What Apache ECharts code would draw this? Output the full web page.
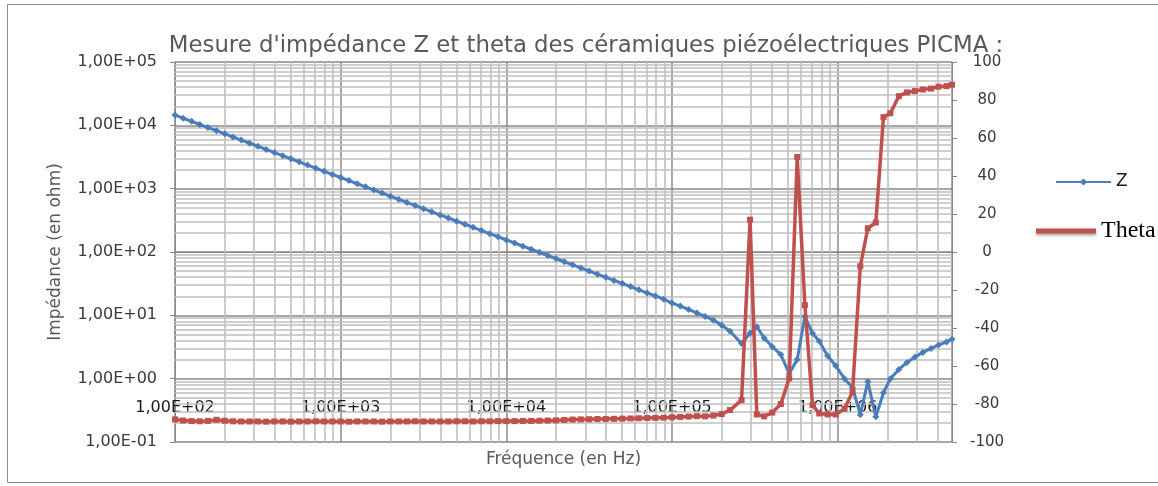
<!DOCTYPE html>
<html>
<head>
<meta charset="utf-8">
<title>Impédance et phase PICMA</title>
<script src="https://cdn.jsdelivr.net/npm/echarts@6/dist/echarts.min.js"></script>
<style>
  html, body { margin: 0; padding: 0; background: #ffffff; }
  #chart { width: 1158px; height: 486px; }
</style>
</head>
<body>
<div id="chart"></div>
<script>
// Swept frequencies (Hz)
const freq = [
  100, 112, 126, 141, 158, 178, 200, 224, 251, 282, 316, 355, 398, 447, 501, 562, 631, 708, 794, 891,
  1000, 1122, 1259, 1413, 1585, 1778, 1995, 2239, 2512, 2818, 3162, 3548, 3981, 4467, 5012, 5623, 6310, 7079, 7943, 8913,
  10000, 11220, 12590, 14130, 15850, 17780, 19950, 22390, 25120, 28180, 31620, 35480, 39810, 44670, 50120, 56230, 63100, 70790, 79430, 89130,
  100000, 112200, 125900, 141300, 158500, 177800, 199500, 223900,
  263000, 296000, 325000, 360000, 403000, 454000, 510000, 570000, 634000, 705000, 774000, 869000, 973000,
  1100000, 1230000, 1370000, 1520000, 1700000, 1890000, 2080000, 2340000, 2620000, 2930000, 3270000, 3660000, 4060000, 4540000, 4900000
];

// Impedance modulus |Z| (ohm)
const impedance = [
  14500, 12950, 11560, 10320, 9210, 8230, 7340, 6560, 5850, 5230, 4670, 4170, 3720, 3320, 2970, 2650, 2360, 2110, 1880, 1680,
  1500, 1340, 1196, 1068, 954, 852, 760, 679, 606, 541, 483, 431, 385, 344, 307, 274, 245, 218, 195, 174,
  155, 138.6, 123.8, 110.5, 98.7, 88.1, 78.7, 70.2, 62.7, 56.0, 50.0, 44.6, 39.8, 35.6, 31.8, 28.4, 25.3, 22.6, 20.2, 18.0,
  15.6, 14.0, 12.4, 10.9, 9.6, 8.4, 7.0, 5.6,
  3.6, 5.2, 6.6, 4.4, 3.2, 2.4, 1.2, 2.0, 9.6, 5.2, 3.9, 2.3, 1.6,
  1.0, 0.72, 0.27, 0.9, 0.25, 0.6, 1.0, 1.4, 1.8, 2.2, 2.6, 3.0, 3.4, 3.8, 4.2
];

// Phase angle theta (degrees)
const theta = [
  -88.1, -88.7, -89.0, -89.1, -88.9, -88.3, -88.8, -89.1, -89.2, -89.2, -89.2, -89.3, -89.2, -89.2, -89.3, -89.2, -89.2, -89.1, -89.2, -89.2,
  -89.2, -89.3, -89.2, -89.2, -89.2, -89.3, -89.2, -89.2, -89.2, -89.1, -89.2, -89.2, -89.2, -89.2, -89.1, -89.1, -89.2, -89.1, -89.1, -89.0,
  -89.0, -89.0, -88.9, -88.9, -88.8, -88.7, -88.6, -88.4, -88.2, -88.1, -88.0, -87.9, -87.9, -87.8, -87.7, -87.6, -87.5, -87.4, -87.3, -87.2,
  -87.0, -86.8, -86.6, -86.4, -86.5, -86.1, -85.3, -83.2,
  -78.0, 17.0, -85.5, -86.5, -84.5, -80.0, -66.5, 50.0, -28.0, -80.5, -85.0, -85.5, -85.5,
  -82.5, -73.5, -7.5, 12.5, 15.5, 71.0, 73.0, 82.0, 84.0, 84.7, 85.5, 86.0, 87.0, 87.3, 88.0
];

// Log-axis minor grid values (2..9 within each decade)
const minorMultipliers = [2, 3, 4, 5, 6, 7, 8, 9];
const freqDecades = [1e2, 1e3, 1e4, 1e5, 1e6];
const impedanceDecades = [1e-1, 1e0, 1e1, 1e2, 1e3, 1e4];

const FREQ_MIN = 100, FREQ_MAX = 4.9e6;
const Z_MIN = 0.1, Z_MAX = 1e5;

const SANS = "'DejaVu Sans', sans-serif";
const TEXT = '#595959';
const TICK_TEXT = '#3a3a3a';
const MAJOR_GRID = '#888888';
const MINOR_GRID = '#bfbfbf';

function sciLabel(v) {
  const e = Math.round(Math.log10(v));
  if (Math.abs(Math.log10(v) - e) > 1e-6) return '';
  return '1,00E' + (e < 0 ? '-' : '+') + String(Math.abs(e)).padStart(2, '0');
}

const minorX = [];
freqDecades.forEach(d => minorMultipliers.forEach(m => {
  const v = m * d;
  if (v < FREQ_MAX) minorX.push(v);
}));
const minorY = [];
impedanceDecades.forEach(d => minorMultipliers.forEach(m => minorY.push(m * d)));

const zPoints = freq.map((f, i) => [f, impedance[i]]);
const thetaPoints = freq.map((f, i) => [f, theta[i]]);

const chart = echarts.init(document.getElementById('chart'), null, { renderer: 'canvas' });

chart.setOption({
  animation: false,
  backgroundColor: '#ffffff',
  title: {
    text: "Mesure d'impédance Z et theta des céramiques piézoélectriques PICMA :",
    left: 581,
    top: 30,
    textAlign: 'center',
    textStyle: { fontFamily: SANS, fontSize: 22.8, fontWeight: 'normal', color: TEXT }
  },
  graphic: [{
    type: 'rect',
    silent: true,
    z: -10,
    shape: { x: 7.5, y: 4.5, width: 1200, height: 478 },
    style: { fill: 'none', stroke: '#8c8c8c', lineWidth: 1 }
  }],
  legend: [
    {
      data: ['Z'],
      left: 1055,
      top: 172,
      padding: 0,
      selectedMode: false,
      itemWidth: 55,
      itemHeight: 9,
      textStyle: { fontFamily: SANS, fontSize: 17, color: '#1a1a1a', lineHeight: 20 }
    },
    {
      data: ['Theta'],
      left: 1036,
      top: 217,
      padding: 0,
      selectedMode: false,
      icon: 'rect',
      itemWidth: 60,
      itemHeight: 5,
      itemStyle: { shadowBlur: 3, shadowColor: 'rgba(0,0,0,0.35)', shadowOffsetY: 2 },
      textStyle: { fontFamily: "'Liberation Serif', serif", fontSize: 24, color: '#000000', lineHeight: 28 }
    }
  ],
  grid: { left: 175, right: 206, top: 62, bottom: 44, containLabel: false },
  xAxis: {
    type: 'log',
    logBase: 10,
    min: FREQ_MIN,
    max: FREQ_MAX,
    interval: 1,
    name: 'Fréquence (en Hz)',
    nameLocation: 'middle',
    nameGap: 9,
    nameTextStyle: { fontFamily: SANS, fontSize: 17, color: TEXT, verticalAlign: 'top' },
    axisLine: { show: true, lineStyle: { color: MAJOR_GRID, width: 1 } },
    axisTick: { show: true, inside: false, length: 4, lineStyle: { color: MAJOR_GRID } },
    axisLabel: {
      inside: true,
      margin: 26,
      fontFamily: SANS,
      fontSize: 16,
      color: '#1a1a1a',
      showMaxLabel: false,
      formatter: sciLabel
    },
    splitLine: { show: true, lineStyle: { color: MAJOR_GRID, width: 1.5 } }
  },
  yAxis: [
    {
      type: 'log',
      logBase: 10,
      min: Z_MIN,
      max: Z_MAX,
      interval: 1,
      position: 'left',
      name: 'Impédance (en ohm)',
      nameLocation: 'middle',
      nameGap: 111,
      nameTextStyle: { fontFamily: SANS, fontSize: 17, color: TEXT },
      axisLine: { show: true, lineStyle: { color: MAJOR_GRID, width: 1 } },
      axisTick: { show: true, inside: false, length: 5, lineStyle: { color: MAJOR_GRID } },
      axisLabel: { margin: 18, fontFamily: SANS, fontSize: 16, color: TICK_TEXT, formatter: sciLabel },
      splitLine: { show: true, lineStyle: { color: MAJOR_GRID, width: 1.5 } }
    },
    {
      type: 'value',
      min: -100,
      max: 100,
      interval: 20,
      position: 'right',
      axisLine: { show: true, lineStyle: { color: MAJOR_GRID, width: 1 } },
      axisTick: { show: true, inside: false, length: 5, lineStyle: { color: MAJOR_GRID } },
      axisLabel: { margin: 35, align: 'center', fontFamily: SANS, fontSize: 15, color: TICK_TEXT },
      splitLine: { show: false }
    }
  ],
  series: [
    {
      name: 'grille',
      type: 'line',
      data: [],
      xAxisIndex: 0,
      yAxisIndex: 0,
      silent: true,
      markLine: {
        silent: true,
        z: 1,
        animation: false,
        symbol: ['none', 'none'],
        label: { show: false },
        emphasis: { disabled: true },
        lineStyle: { color: MINOR_GRID, width: 1.6, type: 'solid' },
        data: minorX.map(v => ({ xAxis: v })).concat(minorY.map(v => ({ yAxis: v })))
      }
    },
    {
      name: 'Z',
      type: 'line',
      xAxisIndex: 0,
      yAxisIndex: 0,
      z: 3,
      data: zPoints,
      showSymbol: true,
      showAllSymbol: true,
      symbol: 'diamond',
      symbolSize: 7,
      color: '#4a7ebb',
      lineStyle: { color: '#4a7ebb', width: 3 },
      itemStyle: { color: '#4a7ebb' },
      emphasis: { disabled: true }
    },
    {
      name: 'Theta',
      type: 'line',
      xAxisIndex: 0,
      yAxisIndex: 1,
      z: 4,
      data: thetaPoints,
      showSymbol: true,
      showAllSymbol: true,
      symbol: 'rect',
      symbolSize: 6,
      color: '#c0504d',
      lineStyle: { color: '#c0504d', width: 3.5 },
      itemStyle: { color: '#c0504d' },
      emphasis: { disabled: true }
    }
  ]
});
</script>
</body>
</html>
